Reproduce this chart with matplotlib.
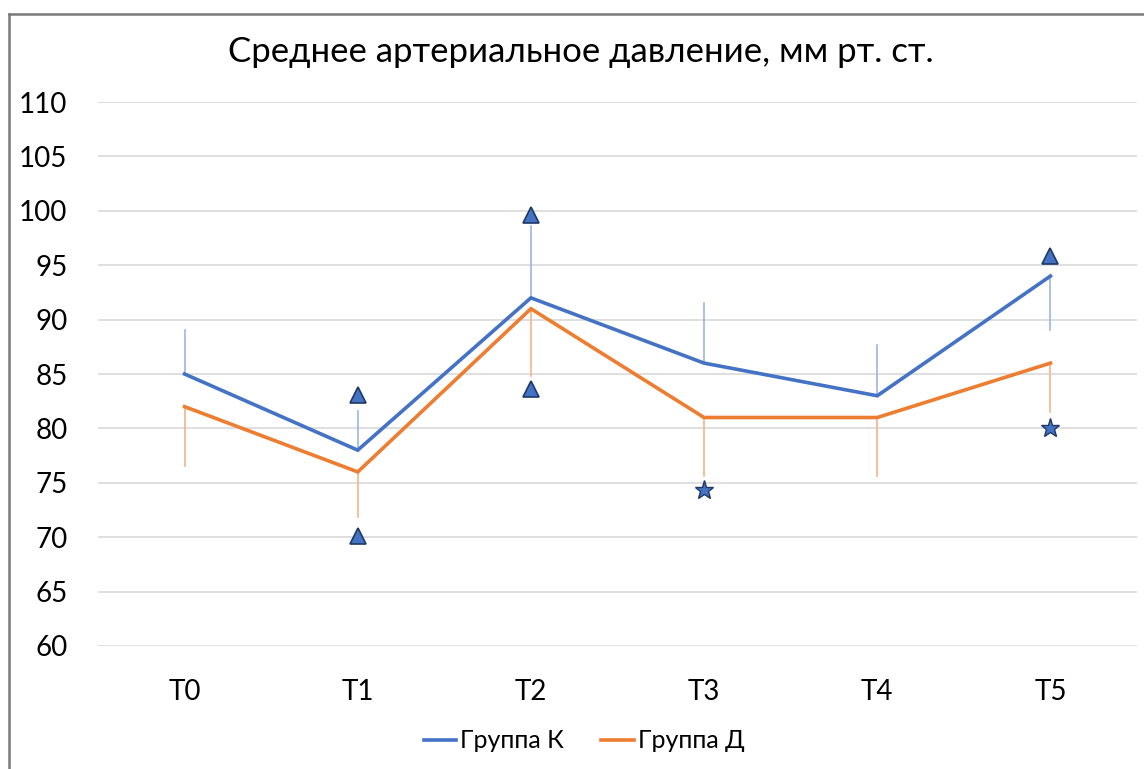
import matplotlib
matplotlib.use("Agg")
import matplotlib.pyplot as plt
from matplotlib.lines import Line2D

plt.rcParams['font.family'] = ['Lato', 'DejaVu Sans']

categories = ["T0", "T1", "T2", "T3", "T4", "T5"]
group_k = [85, 78, 92, 86, 83, 94]
group_d = [82, 76, 91, 81, 81, 86]
# error bar ends
k_err_end = [89.0, 81.6, 98.6, 91.5, 87.7, 89.0]
d_err_end = [76.5, 71.9, 84.8, 75.6, 75.6, 81.5]
# significance markers
tri_x = [1, 1, 2, 2, 5]
tri_y = [83.1, 70.1, 99.6, 83.6, 95.8]
star_x = [3, 5]
star_y = [74.3, 80.0]
yticks = [60, 65, 70, 75, 80, 85, 90, 95, 100, 105, 110]

W, H = 1144, 769
fig = plt.figure(figsize=(W / 100, H / 100), dpi=100)
ax = fig.add_axes([98 / W, 1 - 646 / H, (1137 - 98) / W, (646 - 102) / H])

x = list(range(len(categories)))
for i in x:
    ax.plot([i, i], [group_k[i], k_err_end[i]], color="#9DB5E0", lw=1.2, zorder=2)
    ax.plot([i, i], [group_d[i], d_err_end[i]], color="#F2B48A", lw=1.2, zorder=2)

ax.plot(x, group_k, color="#4472C4", lw=2.6, label="Группа К", zorder=3,
        solid_joinstyle="miter")
ax.plot(x, group_d, color="#ED7D31", lw=2.6, label="Группа Д", zorder=3,
        solid_joinstyle="miter")

ax.plot(tri_x, tri_y, ls="none", marker="^", markersize=12,
        markerfacecolor="#4472C4", markeredgecolor="#1F3864", markeredgewidth=1.2, zorder=4)
ax.plot(star_x, star_y, ls="none", marker="*", markersize=14,
        markerfacecolor="#4472C4", markeredgecolor="#1F3864", markeredgewidth=1.0, zorder=4)

ax.set_xlim(-0.5, 5.5)
ax.set_ylim(60, 110)
ax.set_yticks(yticks)
ax.set_xticks(x)
ax.set_xticklabels(categories)
ax.grid(axis="y", color="#D9D9D9", lw=1.2)
ax.set_axisbelow(True)
for s in ax.spines.values():
    s.set_visible(False)
ax.tick_params(axis="both", length=0, labelsize=20, colors="black")
ax.tick_params(axis="y", pad=22)
ax.tick_params(axis="x", pad=24)

fig.text(581 / W, 1 - 52 / H, "Среднее артериальное давление, мм рт. ст.",
         ha="center", va="center", fontsize=25)

handles = [Line2D([], [], color="#4472C4", lw=2.6),
           Line2D([], [], color="#ED7D31", lw=2.6)]
fig.legend(handles, ["Группа К", "Группа Д"], loc="center",
           bbox_to_anchor=(584 / W, 1 - 741 / H), ncol=2, frameon=False,
           fontsize=18, handlelength=1.3, handletextpad=0.15, columnspacing=1.5)

fig.add_artist(Line2D([9 / W, 1.0], [1 - 13.5 / H, 1 - 13.5 / H],
                      transform=fig.transFigure, color="#7A7A7A", lw=1.8))
fig.add_artist(Line2D([9 / W, 9 / W], [0, 1 - 13.5 / H],
                      transform=fig.transFigure, color="#7A7A7A", lw=1.8))

fig.savefig("out.png", dpi=100)
